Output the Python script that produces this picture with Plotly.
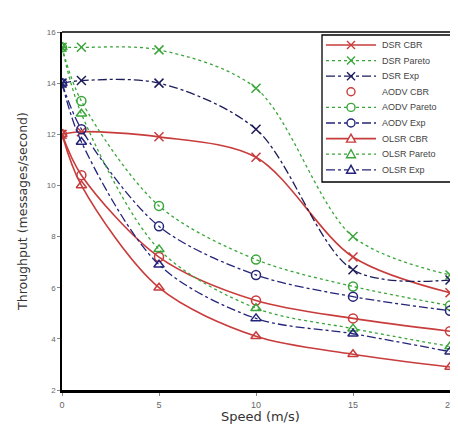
import plotly.graph_objects as go

speed = [0, 1, 5, 10, 15, 20]

dsr_cbr = [12.0, 12.1, 11.9, 11.1, 7.2, 5.8]
dsr_pareto = [15.4, 15.4, 15.3, 13.8, 8.0, 6.5]
dsr_exp = [14.0, 14.1, 14.0, 12.2, 6.7, 6.3]
aodv_cbr = [12.0, 10.4, 7.2, 5.5, 4.8, 4.3]
aodv_pareto = [15.4, 13.3, 9.2, 7.1, 6.05, 5.3]
aodv_exp = [14.0, 12.2, 8.4, 6.5, 5.65, 5.1]
olsr_cbr = [12.0, 10.0, 6.0, 4.1, 3.4, 2.9]
olsr_pareto = [15.4, 12.8, 7.5, 5.2, 4.4, 3.7]
olsr_exp = [14.0, 11.7, 6.9, 4.8, 4.2, 3.5]

names = ["DSR CBR", "DSR Pareto", "DSR Exp", "AODV CBR", "AODV Pareto", "AODV Exp",
         "OLSR CBR", "OLSR Pareto", "OLSR Exp"]
values = [dsr_cbr, dsr_pareto, dsr_exp, aodv_cbr, aodv_pareto, aodv_exp,
          olsr_cbr, olsr_pareto, olsr_exp]

RED = "#c83c3c"
GREEN = "#3aa63a"
NAVY = "#24247a"

styles = [
    (RED, "solid", "x-thin-open", 1.6),
    (GREEN, "dot", "x-thin-open", 1.3),
    ("#1c1c5a", "dashdot", "x-thin-open", 1.3),
    (RED, "solid", "circle-open", 1.6),
    (GREEN, "dot", "circle-open", 1.3),
    (NAVY, "dashdot", "circle-open", 1.3),
    (RED, "solid", "triangle-up-open", 1.6),
    (GREEN, "dot", "triangle-up-open", 1.3),
    (NAVY, "dashdot", "triangle-up-open", 1.3),
]

W, H = 442, 419
ML, MR, MT, MB = 54, 0, 24, 37
PW, PH = W - ML - MR, H - MT - MB
OFF = 8  # page body margin


def px(wx):
    return (wx - OFF - ML) / PW


def py(wy):
    return (H - MB - (wy - OFF)) / PH


fig = go.Figure()
for name, vals, (color, dash, sym, lw) in zip(names, values, styles):
    fig.add_trace(go.Scatter(
        x=speed, y=vals, name=name, mode="lines+markers", showlegend=False,
        line=dict(color=color, dash=dash, width=lw, shape="spline", smoothing=0.9),
        marker=dict(symbol=sym, size=9, color=color, line=dict(color=color, width=1.5)),
    ))

MARKER_PATHS = {
    "x-thin-open": "M-4,-4 L4,4 M-4,4 L4,-4",
    "circle-open": None,
    "triangle-up-open": "M-4.5,-3.5 L4.5,-3.5 L0,4.5 Z",
}

# hand-drawn legend (compact row spacing as in the reference)
shapes = [
    dict(type="line", xref="paper", yref="paper", x0=0, x1=1, y0=1, y1=1,
         line=dict(color="black", width=1.5)),
    dict(type="rect", xref="paper", yref="paper", x0=px(322), x1=px(453), y0=py(182), y1=py(35),
         line=dict(color="black", width=1.3), fillcolor="white", layer="above"),
]
annotations = []
for i, (name, (color, dash, sym, lw)) in enumerate(zip(names, styles)):
    wy = 45 + i * 15.6
    if name != "AODV CBR":
        shapes.append(dict(type="line", xref="paper", yref="paper",
                           x0=px(326), x1=px(376), y0=py(wy), y1=py(wy),
                           line=dict(color=color, dash=dash, width=lw), layer="above"))
    path = MARKER_PATHS[sym]
    common = dict(xref="paper", yref="paper", xsizemode="pixel", ysizemode="pixel",
                  xanchor=px(351), yanchor=py(wy), layer="above",
                  line=dict(color=color, width=1.4))
    if path is None:
        shapes.append(dict(type="circle", x0=-4, x1=4, y0=-4, y1=4,
                           fillcolor="white", **common))
    else:
        shapes.append(dict(type="path", path=path,
                           fillcolor="white" if "triangle" in sym else None, **common))
    annotations.append(dict(xref="paper", yref="paper", x=px(380), y=py(wy),
                            text=name, showarrow=False, xanchor="left", yanchor="middle",
                            font=dict(size=9, color="#444444")))

# x-axis title placed as an annotation just below the tick labels
annotations.append(dict(xref="paper", yref="paper", x=px(261), y=py(416),
                        text="Speed (m/s)", showarrow=False, xanchor="center", yanchor="middle",
                        font=dict(family="DejaVu Sans", size=13, color="#333333")))

fig.update_layout(
    width=W, height=H,
    margin=dict(l=ML, r=MR, t=MT, b=MB, autoexpand=False),
    paper_bgcolor="white", plot_bgcolor="white",
    font=dict(family="Liberation Sans, Arial, sans-serif", color="#333333"),
    showlegend=False,
    shapes=shapes,
    annotations=annotations,
    xaxis=dict(
        range=[0, 20], tickvals=[0, 5, 10, 15, 20],
        showline=True, linecolor="black", linewidth=3, mirror=False,
        ticks="outside", ticklen=3, tickcolor="#888888",
        showgrid=False, zeroline=False, automargin=False, ticklabeloverflow="allow",
        ticklabelstandoff=1,
        tickfont=dict(size=9, color="#666666"),
    ),
    yaxis=dict(
        range=[2, 16], tickvals=[2, 4, 6, 8, 10, 12, 14, 16],
        showline=True, linecolor="black", linewidth=1.5, mirror=False,
        ticks="outside", ticklen=3, tickcolor="#888888",
        showgrid=False, zeroline=False, automargin=False,
        tickfont=dict(size=8, color="#666666"),
        title=dict(text="Throughput (messages/second)",
                   font=dict(family="DejaVu Sans", size=12.5, color="#333333"), standoff=16),
    ),
)

fig.write_html("out.html")
